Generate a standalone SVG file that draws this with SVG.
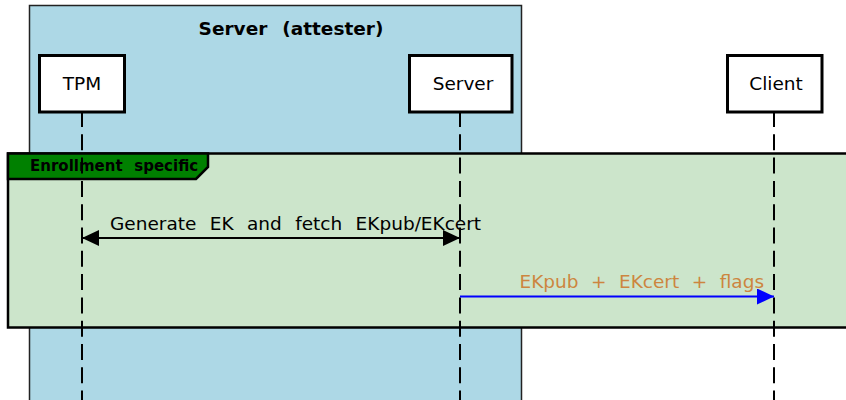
<svg xmlns="http://www.w3.org/2000/svg" width="846" height="400" viewBox="0 0 846 400">
  <defs>
    <style>
      text { font-family: "DejaVu Sans", "Noto Sans", sans-serif; font-size: 18.5px; fill: #000; }
      .title { font-weight: bold; word-spacing: 8.5px; }
      .tag { font-weight: bold; font-size: 15px; word-spacing: 6.5px; }
      .msg { word-spacing: 7.5px; }
      .orange { fill: #cd853f; word-spacing: 6.6px; }
      .actor { fill: #fff; stroke: #000; stroke-width: 3; }
      .life { stroke: #000; stroke-width: 2; stroke-dasharray: 16 7.3; fill: none; }
    </style>
    <marker id="headBlack" viewBox="0 0 17 16" refX="17" refY="8" markerWidth="17" markerHeight="16" markerUnits="userSpaceOnUse" orient="auto-start-reverse">
      <path d="M0,0 L17,8 L0,16 Z" fill="#000"/>
    </marker>
    <marker id="headBlue" viewBox="0 0 17 16" refX="17" refY="8" markerWidth="17" markerHeight="16" markerUnits="userSpaceOnUse" orient="auto">
      <path d="M0,0 L17,8 L0,16 Z" fill="#0000ff"/>
    </marker>
  </defs>

  <rect width="846" height="400" fill="#fff"/>

  <!-- box grouping the attester side -->
  <g id="attester-box">
    <rect x="29.5" y="5.5" width="492" height="400" fill="#add8e6" stroke="#222" stroke-width="1.5"/>
    <text class="title" x="291" y="35" text-anchor="middle">Server (attester)</text>
  </g>

  <!-- enrollment frame -->
  <g id="frame-enrollment">
    <rect x="8" y="153.5" width="850" height="174" fill="#cce5cb" stroke="#000" stroke-width="2.5"/>
    <path d="M8,153.5 L208,153.5 L208,167 L196,179 L8,179 Z" fill="#008000" stroke="#000" stroke-width="2.5"/>
    <text class="tag" x="30" y="171">Enrollment specific</text>
  </g>

  <!-- participants -->
  <g id="tpm">
    <line class="life" x1="82" y1="111" x2="82" y2="400"/>
    <rect class="actor" x="39.5" y="55.5" width="85" height="56.5"/>
    <text x="82" y="90" text-anchor="middle">TPM</text>
  </g>
  <g id="server">
    <line class="life" x1="460" y1="111" x2="460" y2="400"/>
    <rect class="actor" x="409.5" y="55.5" width="102.5" height="56.5"/>
    <text x="463" y="90" text-anchor="middle">Server</text>
  </g>
  <g id="client">
    <line class="life" x1="774" y1="111" x2="774" y2="400"/>
    <rect class="actor" x="727.5" y="55.5" width="94.5" height="56.5"/>
    <text x="776" y="90" text-anchor="middle">Client</text>
  </g>

  <!-- messages -->
  <g id="connectors">
    <line x1="82" y1="238" x2="460" y2="238" stroke="#000" stroke-width="2" marker-start="url(#headBlack)" marker-end="url(#headBlack)"/>
    <text class="msg" x="110" y="230">Generate EK and fetch EKpub/EKcert</text>
    <line x1="460" y1="296.5" x2="774" y2="296.5" stroke="#0000ff" stroke-width="2" marker-end="url(#headBlue)"/>
    <text class="orange" x="519.5" y="288">EKpub + EKcert + flags</text>
  </g>
</svg>
